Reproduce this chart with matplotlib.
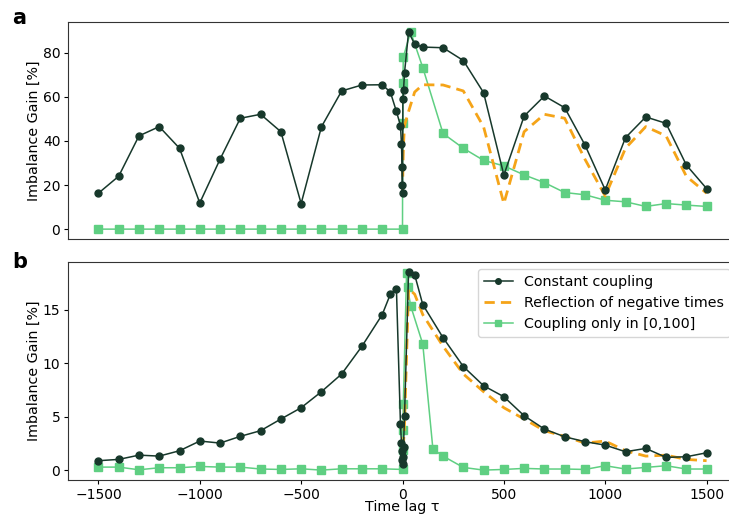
import numpy as np
import matplotlib
matplotlib.use("Agg")
import matplotlib.pyplot as plt

# ---------------- data ----------------
neg_grid = [-1500, -1400, -1300, -1200, -1100, -1000, -900, -800, -700, -600,
            -500, -400, -300, -200, -100]
pos_grid = [100, 200, 300, 400, 500, 600, 700, 800, 900, 1000, 1100, 1200,
            1300, 1400, 1500]

# constant coupling lags
const_lags = neg_grid + [-60, -30, -10, -5, -2, -1, 0, 2, 5, 10, 30, 60] + pos_grid
# reflection lags
refl_lags = [0, 1, 2, 5, 10, 30, 60] + pos_grid

# panel a
a_const = [16.3, 24.0, 42.3, 46.5, 36.7, 11.9, 31.7, 50.3, 52.1, 44.2,
           11.6, 46.4, 62.7, 65.4, 65.5,
           62.2, 53.4, 47.0, 38.6, 28.0, 20.1, 16.4, 59.0, 63.0, 71.0, 89.5, 83.9,
           82.6, 82.3, 76.5, 61.9, 24.5, 51.3, 60.4, 55.1, 38.2, 17.8, 41.5,
           50.9, 48.0, 29.1, 18.4]
a_refl = [16.4, 20.1, 28.0, 38.6, 47.0, 53.4, 62.2,
          65.5, 65.4, 62.7, 46.4, 11.6, 44.2, 52.1, 50.3, 31.7, 15.0, 36.7,
          46.5, 42.3, 24.0, 16.3]
a_win_lags = neg_grid + [0, 1, 2, 4, 40] + pos_grid
a_win = [0.0] * 15 + [0.0, 48.3, 66.2, 78.0, 89.5,
                      73.3, 43.4, 36.7, 31.2, 28.7, 24.6, 21.1, 16.6, 15.6,
                      13.1, 12.4, 10.3, 11.6, 10.9, 10.3]

# panel b
b_const = [0.88, 1.00, 1.40, 1.31, 1.81, 2.72, 2.53, 3.16, 3.69, 4.78,
           5.84, 7.34, 9.00, 11.6, 14.56,
           16.47, 17.0, 4.3, 2.5, 1.75, 0.94, 0.6, 1.2, 2.2, 5.1, 18.56, 18.3,
           15.5, 12.4, 9.7, 7.9, 6.87, 5.09, 3.84, 3.12, 2.66, 2.34, 1.72,
           2.03, 1.19, 1.25, 1.62]
b_refl = [0.6, 0.94, 1.75, 2.5, 4.3, 17.0, 16.47,
          14.56, 11.6, 9.00, 7.34, 5.84, 4.78, 3.69, 3.16, 2.53, 2.72, 1.81,
          1.31, 1.40, 1.00, 0.88]
b_win_lags = neg_grid + [0, 1, 2, 4, 20, 25, 40, 100, 150, 200, 300, 400,
                         500, 600, 700, 800, 900, 1000, 1100, 1200, 1300,
                         1400, 1500]
b_win = [0.28, 0.28, 0.03, 0.22, 0.22, 0.34, 0.28, 0.28, 0.10, 0.06,
         0.12, 0.0, 0.12, 0.12, 0.12,
         0.06, 1.87, 3.75, 6.16, 18.46, 17.1, 15.4, 11.8, 1.97, 1.31, 0.25,
         0.0, 0.06, 0.16, 0.10, 0.10, 0.06, 0.41, 0.10, 0.25, 0.41, 0.10, 0.10]

labels = ["Constant coupling", "Reflection of negative times",
          "Coupling only in [0,100]"]
xticks = [-1500, -1000, -500, 0, 500, 1000, 1500]

# ---------------- style ----------------
c_const = "#17382b"
c_refl = "#f5a418"
c_win = "#5fcf82"

plt.rcParams['font.family'] = ['DejaVu Sans']
fig = plt.figure(figsize=(7.29, 5.16), dpi=100)
ax1 = fig.add_axes([68/729, 1-239/516, (737-68)/729, 217/516])
ax2 = fig.add_axes([68/729, 1-480/516, (737-68)/729, 218/516])


def draw(ax, const, refl, win_lags, win):
    ax.plot(win_lags, win, color=c_win, lw=1.1, marker="s", ms=5.5,
            label=labels[2], zorder=2)
    ax.plot(refl_lags, refl, color=c_refl, lw=2, ls=(0, (3.7, 2.2)),
            label=labels[1], zorder=3)
    ax.plot(const_lags, const, color=c_const, lw=1.1, marker="o", ms=5,
            label=labels[0], zorder=4)
    ax.set_xlim(-1650, 1650)
    ax.set_ylabel("Imbalance Gain [%]", fontsize=10.3, labelpad=1)
    ax.tick_params(labelsize=10, length=3, pad=2.5)
    for s in ax.spines.values():
        s.set_color("#333333")


draw(ax1, a_const, a_refl, a_win_lags, a_win)
draw(ax2, b_const, b_refl, b_win_lags, b_win)

ax1.set_yticks([0, 20, 40, 60, 80])
ax1.set_xticks(xticks)
ax1.tick_params(axis="x", length=0, labelbottom=False)
ax2.set_yticks([0, 5, 10, 15])
ax2.set_xticks(xticks)
ax2.set_xticklabels([f"\u2212{abs(v)}" if v < 0 else str(v) for v in xticks])
ax2.set_xlabel("Time lag \u03c4", fontsize=10.3, labelpad=-1)

h, l = ax2.get_legend_handles_labels()
order = [2, 1, 0]
leg = ax2.legend([h[i] for i in order], [l[i] for i in order],
                 loc="upper right", fontsize=10.3, markerscale=0.8,
                 bbox_to_anchor=(1.0, 1.0), borderaxespad=0.5)

fig.text(12/729, 1-18/516, "a", fontsize=15, fontweight="bold",
         ha="left", va="center")
fig.text(12/729, 1-262/516, "b", fontsize=15, fontweight="bold",
         ha="left", va="center")

fig.savefig("out.png", dpi=100)
